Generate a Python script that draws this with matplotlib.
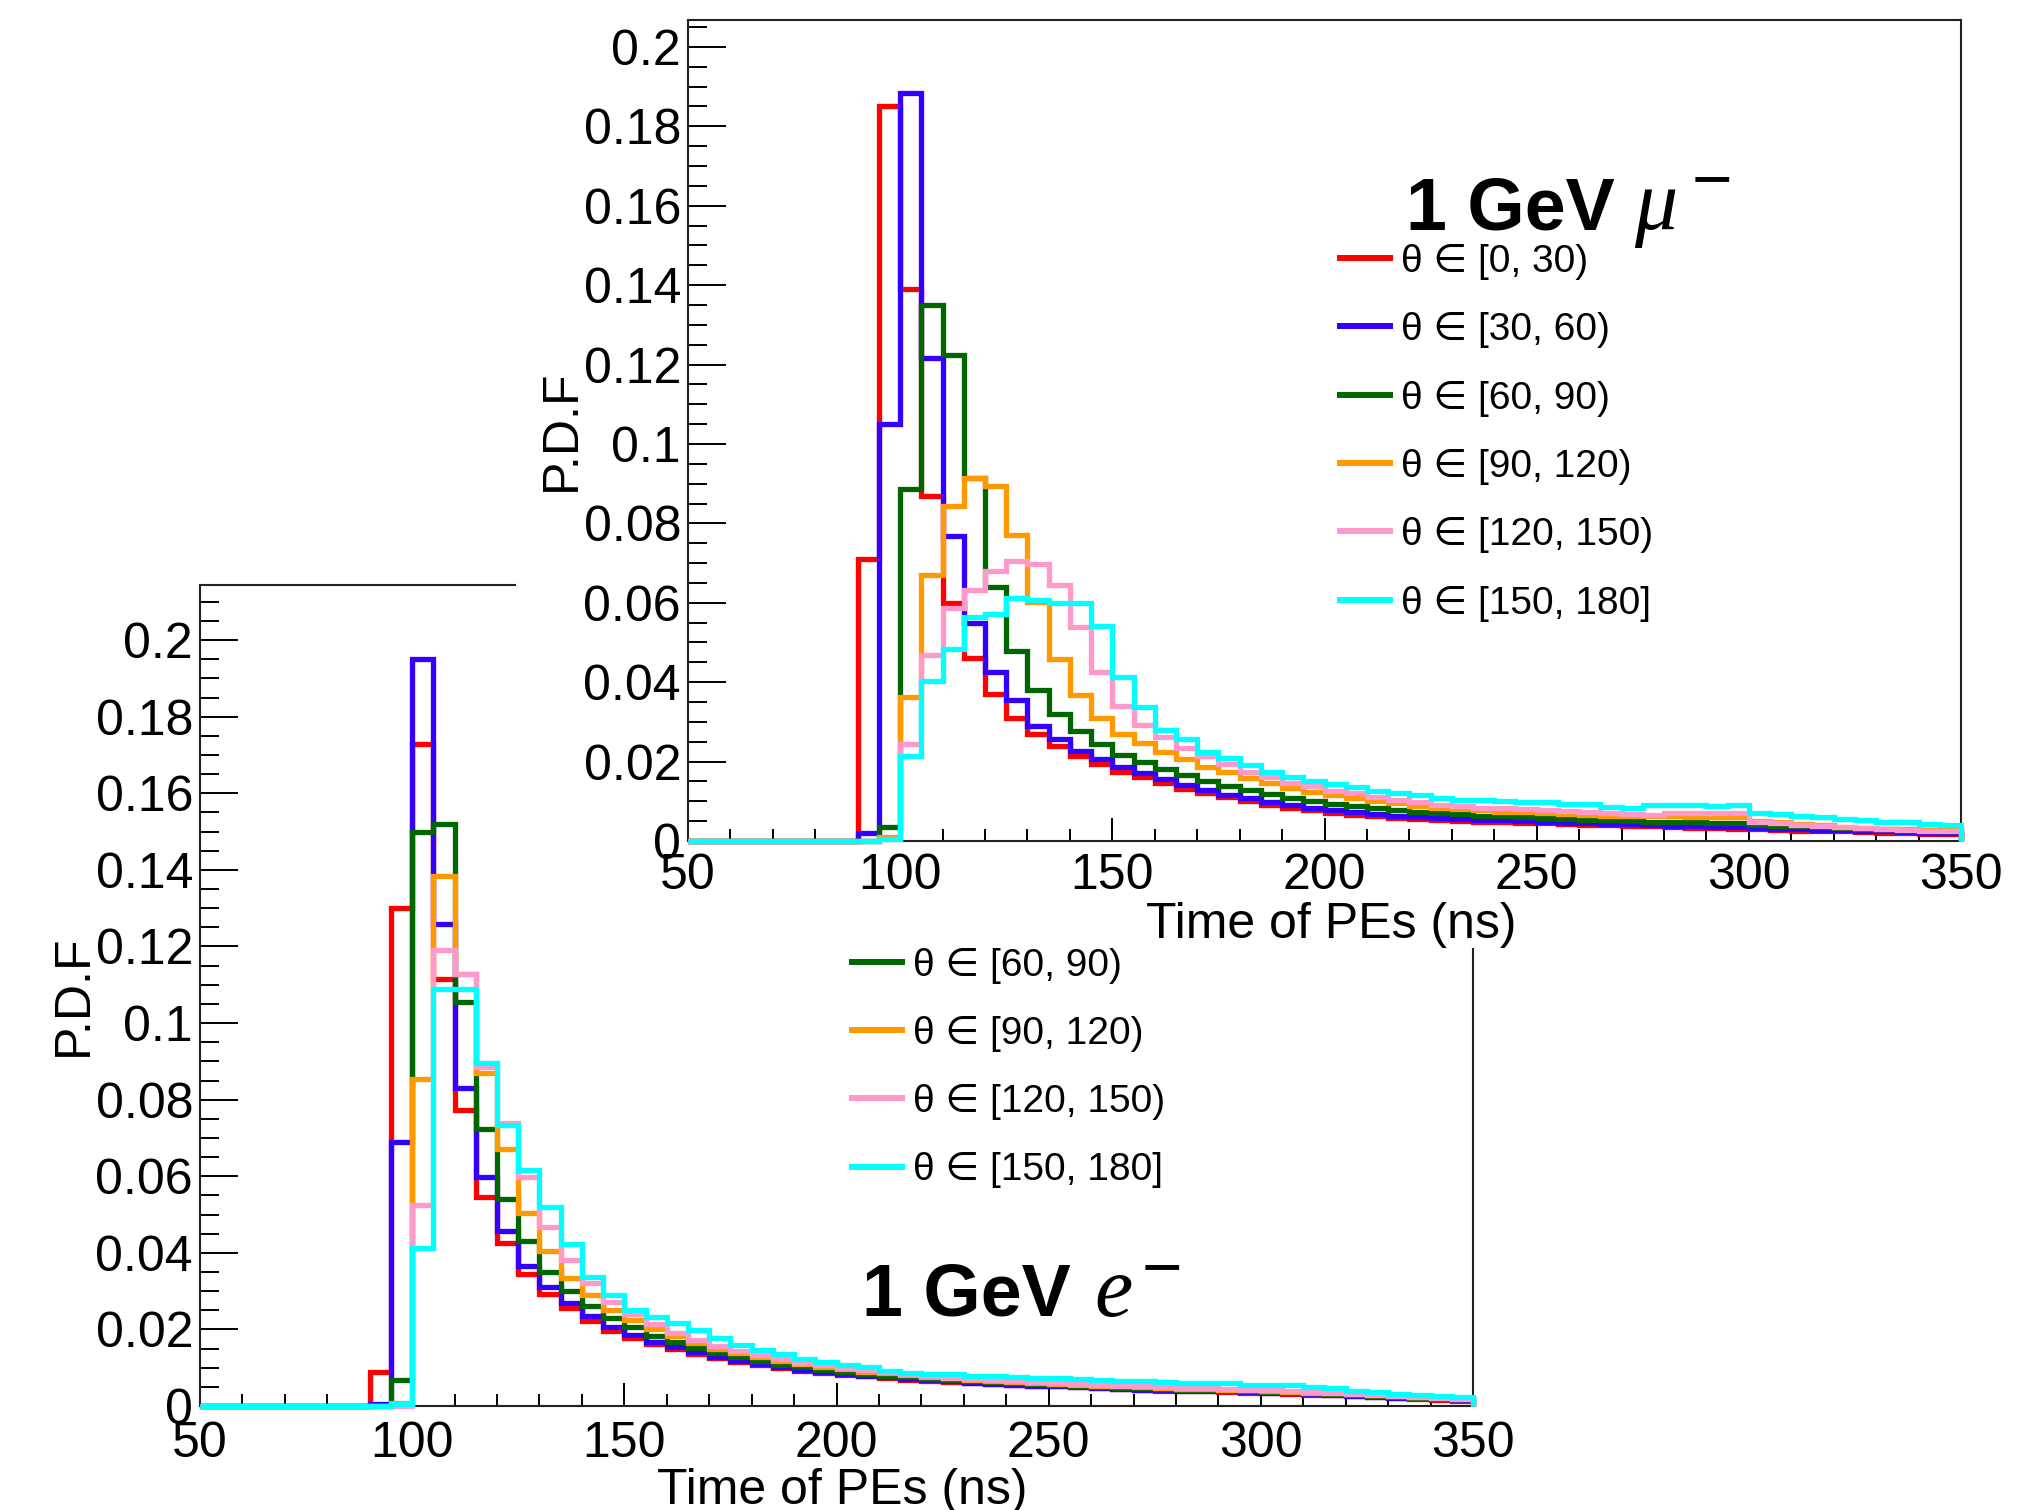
import numpy as np
import matplotlib
matplotlib.use("Agg")
import matplotlib.pyplot as plt
from matplotlib.patches import Rectangle
from matplotlib.lines import Line2D
from matplotlib.ticker import MultipleLocator, FuncFormatter

plt.rcParams["font.family"] = ["Liberation Sans", "DejaVu Sans"]

# ---------------------------------------------------------------------------
# Photo-electron arrival-time PDFs, 5 ns bins from 50 to 350 ns
# ---------------------------------------------------------------------------
time_edges = np.arange(50, 355, 5)

theta_labels = ["θ ∈ [0, 30)", "θ ∈ [30, 60)", "θ ∈ [60, 90)",
                "θ ∈ [90, 120)", "θ ∈ [120, 150)", "θ ∈ [150, 180]"]
theta_colors = ["#ff0000", "#3300ff", "#006600", "#ff9900", "#ff99cc", "#00ffff"]

# 1 GeV muons
mu_0_30 = [0, 0, 0, 0, 0, 0, 0, 0, 0.071, 0.185,
           0.139, 0.087, 0.060, 0.046, 0.037, 0.031, 0.027, 0.024, 0.0213, 0.0194,
           0.0174, 0.0161, 0.0146, 0.0130, 0.0120, 0.0110, 0.0101, 0.0091, 0.0084, 0.0077,
           0.0071, 0.0066, 0.0062, 0.0058, 0.0056, 0.0053, 0.0051, 0.0049, 0.0048, 0.0046,
           0.0045, 0.0043, 0.0041, 0.0040, 0.0038, 0.0037, 0.0035, 0.0034, 0.0033, 0.0031,
           0.0030, 0.0028, 0.0026, 0.0025, 0.0024, 0.0022, 0.0021, 0.0020, 0.0018, 0.0017]
mu_30_60 = [0, 0, 0, 0, 0, 0, 0, 0, 0.002, 0.105,
            0.1885, 0.1216, 0.0768, 0.0549, 0.0426, 0.0355, 0.0290, 0.0258, 0.0226, 0.0207,
            0.0187, 0.0172, 0.0155, 0.0140, 0.0129, 0.0117, 0.0108, 0.0099, 0.0091, 0.0084,
            0.0078, 0.0073, 0.0068, 0.0064, 0.0061, 0.0058, 0.0056, 0.0054, 0.0052, 0.0050,
            0.0048, 0.0046, 0.0045, 0.0043, 0.0042, 0.0040, 0.0039, 0.0038, 0.0036, 0.0035,
            0.0033, 0.0031, 0.0030, 0.0028, 0.0027, 0.0025, 0.0024, 0.0022, 0.0021, 0.0020]
mu_60_90 = [0, 0, 0, 0, 0, 0, 0, 0, 0.0, 0.0035,
            0.0887, 0.1350, 0.1223, 0.0915, 0.0639, 0.0478, 0.0381, 0.0319, 0.0278, 0.0245,
            0.0216, 0.0198, 0.0181, 0.0166, 0.0152, 0.0139, 0.0128, 0.0118, 0.0109, 0.0101,
            0.0094, 0.0088, 0.0082, 0.0078, 0.0074, 0.0070, 0.0067, 0.0064, 0.0062, 0.0060,
            0.0058, 0.0056, 0.0054, 0.0052, 0.0050, 0.0049, 0.0048, 0.0047, 0.0046, 0.0045,
            0.0041, 0.0039, 0.0037, 0.0035, 0.0033, 0.0031, 0.0030, 0.0028, 0.0027, 0.0026]
mu_90_120 = [0, 0, 0, 0, 0, 0, 0, 0, 0.0, 0.0010,
             0.0362, 0.0671, 0.0843, 0.0913, 0.0895, 0.0771, 0.0603, 0.0458, 0.0368, 0.0310,
             0.0270, 0.0246, 0.0225, 0.0207, 0.0187, 0.0173, 0.0158, 0.0145, 0.0134, 0.0124,
             0.0116, 0.0108, 0.0101, 0.0095, 0.0089, 0.0084, 0.0080, 0.0077, 0.0074, 0.0072,
             0.0070, 0.0068, 0.0066, 0.0064, 0.0063, 0.0062, 0.0062, 0.0061, 0.0061, 0.0060,
             0.0050, 0.0047, 0.0043, 0.0040, 0.0036, 0.0034, 0.0031, 0.0030, 0.0028, 0.0027]
mu_120_150 = [0, 0, 0, 0, 0, 0, 0, 0, 0.0, 0.0005,
              0.0245, 0.0469, 0.0587, 0.0633, 0.0680, 0.0704, 0.0697, 0.0646, 0.0538, 0.0426,
              0.0340, 0.0292, 0.0263, 0.0235, 0.0213, 0.0193, 0.0175, 0.0162, 0.0147, 0.0138,
              0.0127, 0.0120, 0.0110, 0.0104, 0.0097, 0.0091, 0.0087, 0.0084, 0.0082, 0.0080,
              0.0077, 0.0075, 0.0072, 0.0070, 0.0068, 0.0066, 0.0071, 0.0071, 0.0071, 0.0070,
              0.0049, 0.0045, 0.0041, 0.0038, 0.0035, 0.0032, 0.0030, 0.0028, 0.0026, 0.0025]
mu_150_180 = [0, 0, 0, 0, 0, 0, 0, 0, 0.0, 0.0005,
              0.0213, 0.0403, 0.0484, 0.0564, 0.0572, 0.0611, 0.0607, 0.0600, 0.0600, 0.0542,
              0.0413, 0.0338, 0.0280, 0.0256, 0.0225, 0.0209, 0.0192, 0.0175, 0.0162, 0.0152,
              0.0143, 0.0136, 0.0127, 0.0122, 0.0116, 0.0108, 0.0104, 0.0103, 0.0101, 0.0099,
              0.0097, 0.0094, 0.0092, 0.0086, 0.0084, 0.0090, 0.0090, 0.0090, 0.0089, 0.0090,
              0.0071, 0.0069, 0.0062, 0.0060, 0.0055, 0.0053, 0.0049, 0.0047, 0.0042, 0.0040]

# 1 GeV electrons
e_0_30 = [0, 0, 0, 0, 0, 0, 0, 0, 0.009, 0.130,
          0.173, 0.1114, 0.0774, 0.0545, 0.0425, 0.0345, 0.0292, 0.0255, 0.0222, 0.0195,
          0.0178, 0.0163, 0.0150, 0.0137, 0.0125, 0.0115, 0.0106, 0.0098, 0.0092, 0.0087,
          0.0082, 0.0078, 0.0073, 0.0069, 0.0065, 0.0062, 0.0059, 0.0057, 0.0055, 0.0053,
          0.0051, 0.0049, 0.0046, 0.0044, 0.0042, 0.0040, 0.0039, 0.0038, 0.0036, 0.0035,
          0.0034, 0.0032, 0.0030, 0.0028, 0.0026, 0.0023, 0.0020, 0.0018, 0.0016, 0.0014]
e_30_60 = [0, 0, 0, 0, 0, 0, 0, 0, 0.0005, 0.069,
           0.195, 0.126, 0.083, 0.0597, 0.0458, 0.0365, 0.0312, 0.0268, 0.0235, 0.0205,
           0.0185, 0.0168, 0.0153, 0.0140, 0.0128, 0.0118, 0.0109, 0.0101, 0.0095, 0.0089,
           0.0084, 0.0079, 0.0075, 0.0071, 0.0067, 0.0064, 0.0061, 0.0058, 0.0055, 0.0052,
           0.0051, 0.0049, 0.0047, 0.0045, 0.0043, 0.0041, 0.0040, 0.0039, 0.0038, 0.0036,
           0.0035, 0.0033, 0.0031, 0.0029, 0.0027, 0.0024, 0.0022, 0.0020, 0.0017, 0.0015]
e_60_90 = [0, 0, 0, 0, 0, 0, 0, 0, 0.0, 0.0067,
           0.150, 0.152, 0.1054, 0.0724, 0.0541, 0.0430, 0.0350, 0.0300, 0.0262, 0.0230,
           0.0205, 0.0184, 0.0166, 0.0151, 0.0138, 0.0127, 0.0117, 0.0108, 0.0101, 0.0095,
           0.0089, 0.0084, 0.0079, 0.0075, 0.0071, 0.0068, 0.0065, 0.0062, 0.0059, 0.0057,
           0.0055, 0.0053, 0.0050, 0.0048, 0.0046, 0.0044, 0.0042, 0.0041, 0.0040, 0.0038,
           0.0037, 0.0035, 0.0033, 0.0031, 0.0029, 0.0026, 0.0024, 0.0021, 0.0019, 0.0017]
e_90_120 = [0, 0, 0, 0, 0, 0, 0, 0, 0.0, 0.0008,
            0.0854, 0.1384, 0.1129, 0.0870, 0.0671, 0.0504, 0.0405, 0.0335, 0.0290, 0.0250,
            0.0225, 0.0202, 0.0182, 0.0165, 0.0150, 0.0138, 0.0127, 0.0117, 0.0109, 0.0102,
            0.0096, 0.0090, 0.0085, 0.0080, 0.0076, 0.0072, 0.0069, 0.0066, 0.0063, 0.0060,
            0.0058, 0.0056, 0.0053, 0.0051, 0.0049, 0.0047, 0.0045, 0.0044, 0.0042, 0.0041,
            0.0039, 0.0037, 0.0035, 0.0033, 0.0031, 0.0028, 0.0025, 0.0023, 0.0020, 0.0018]
e_120_150 = [0, 0, 0, 0, 0, 0, 0, 0, 0.0, 0.0,
             0.0524, 0.1191, 0.1127, 0.0884, 0.0739, 0.0597, 0.0468, 0.0380, 0.0320, 0.0272,
             0.0240, 0.0213, 0.0191, 0.0173, 0.0157, 0.0144, 0.0132, 0.0122, 0.0113, 0.0106,
             0.0099, 0.0093, 0.0088, 0.0083, 0.0078, 0.0074, 0.0071, 0.0068, 0.0065, 0.0062,
             0.0060, 0.0057, 0.0055, 0.0053, 0.0051, 0.0049, 0.0048, 0.0046, 0.0044, 0.0043,
             0.0041, 0.0039, 0.0037, 0.0034, 0.0032, 0.0029, 0.0026, 0.0024, 0.0021, 0.0019]
e_150_180 = [0, 0, 0, 0, 0, 0, 0, 0, 0.0, 0.0005,
             0.0412, 0.1089, 0.1089, 0.0897, 0.0734, 0.0617, 0.0520, 0.0422, 0.0338, 0.0290,
             0.0250, 0.0232, 0.0218, 0.0198, 0.0177, 0.0159, 0.0146, 0.0137, 0.0124, 0.0116,
             0.0107, 0.0101, 0.0092, 0.0087, 0.0084, 0.0083, 0.0079, 0.0078, 0.0077, 0.0073,
             0.0072, 0.0071, 0.0067, 0.0066, 0.0065, 0.0062, 0.0061, 0.0061, 0.0060, 0.0056,
             0.0055, 0.0054, 0.0049, 0.0048, 0.0038, 0.0036, 0.0031, 0.0030, 0.0025, 0.0024]

mu_series = [mu_0_30, mu_30_60, mu_60_90, mu_90_120, mu_120_150, mu_150_180]
e_series = [e_0_30, e_30_60, e_60_90, e_90_120, e_120_150, e_150_180]

# ---------------------------------------------------------------------------
W, H = 2039, 1510
fig = plt.figure(figsize=(W / 100, H / 100), dpi=100)


def fx(x):
    return x / W


def fy(y):
    return 1 - y / H


def box(left, top, right, bottom):
    return [fx(left), fy(bottom), (right - left) / W, (bottom - top) / H]


FS = 36          # axis / tick label size
LW_HIST = 3.8
LW_LEG = 4.3


def style_axes(ax, ymax, xpad):
    ax.set_xlim(50, 350)
    ax.set_ylim(0, ymax)
    ax.xaxis.set_major_locator(MultipleLocator(50))
    ax.xaxis.set_minor_locator(MultipleLocator(10))
    ax.yaxis.set_major_locator(MultipleLocator(0.02))
    ax.yaxis.set_minor_locator(MultipleLocator(0.005))
    ax.yaxis.set_major_formatter(FuncFormatter(lambda v, p: f"{v:g}"))
    ax.tick_params(which="both", direction="in", top=False, right=False,
                   width=1.4, color="black")
    ax.tick_params(axis="x", which="major", length=16.5, pad=xpad, labelsize=FS)
    ax.tick_params(axis="x", which="minor", length=9)
    ax.tick_params(axis="y", which="major", length=27.5, pad=5, labelsize=FS)
    ax.tick_params(axis="y", which="minor", length=13.7)
    for s in ax.spines.values():
        s.set_linewidth(1.5)
        s.set_color("#222222")


def draw_hists(ax, series):
    for vals, col in zip(series, theta_colors):
        sp = ax.stairs(vals, time_edges, fill=False, color=col,
                       linewidth=LW_HIST, zorder=3, clip_on=False)
        sp.set_joinstyle("miter")


def draw_legend(ax, first_row, line_x0, line_x1, text_x):
    for i, (lab, col) in enumerate(zip(theta_labels, theta_colors)):
        y = first_row + 68.3 * i
        ln = Line2D([fx(line_x0), fx(line_x1)], [fy(y), fy(y)],
                    transform=fig.transFigure, color=col, linewidth=LW_LEG,
                    solid_capstyle="butt", clip_on=False)
        ax.add_artist(ln)
        ax.text(fx(text_x), fy(y + 14), lab, transform=fig.transFigure,
                fontsize=28, ha="left", va="baseline")


# --- electron panel (underneath) -------------------------------------------
ax_e = fig.add_axes(box(200, 585, 1473, 1406))
ax_e.set_zorder(0)
style_axes(ax_e, 0.2144, 10.5)
draw_hists(ax_e, e_series)
draw_legend(ax_e, 825, 849, 905, 913)
ax_e.text(fx(862), fy(1316), "1 GeV", transform=fig.transFigure,
          fontsize=53, fontweight="bold", ha="left", va="baseline")
ax_e.text(fx(1094), fy(1316), "e", transform=fig.transFigure,
          fontsize=62, family="Liberation Serif", style="italic",
          ha="left", va="baseline")
ax_e.text(fx(1142), fy(1289), "\u2212", transform=fig.transFigure,
          fontsize=50, ha="left", va="baseline")
fig.text(fx(842), fy(1504), "Time of PEs (ns)", fontsize=FS,
         ha="center", va="baseline", zorder=0.5)
fig.text(fx(74), fy(995), "P.D.F", fontsize=FS, rotation=90,
         ha="center", va="center", zorder=0.5)

# --- white pad of the muon canvas laid over the electron one ---------------
fig.add_artist(Rectangle((fx(516), fy(948)), (W - 516) / W, 948 / H,
                         transform=fig.transFigure, facecolor="white",
                         edgecolor="none", zorder=1))

# --- muon panel (on top) ---------------------------------------------------
ax_mu = fig.add_axes(box(688, 19.5, 1961, 841))
ax_mu.set_zorder(2)
style_axes(ax_mu, 0.2069, 8.5)
draw_hists(ax_mu, mu_series)
draw_legend(ax_mu, 258, 1337, 1393, 1401)
fig.text(fx(1406), fy(229), "1 GeV", fontsize=53, fontweight="bold",
         ha="left", va="baseline", zorder=3)
fig.text(fx(1634), fy(229), "\u03bc", fontsize=62, family="Liberation Serif",
         style="italic", ha="left", va="baseline", zorder=3)
fig.text(fx(1692), fy(201), "\u2212", fontsize=50, ha="left",
         va="baseline", zorder=3)
fig.text(fx(1331), fy(938), "Time of PEs (ns)", fontsize=FS,
         ha="center", va="baseline", zorder=3)
fig.text(fx(562), fy(430), "P.D.F", fontsize=FS, rotation=90,
         ha="center", va="center", zorder=3)

fig.savefig("out.png", dpi=100)
